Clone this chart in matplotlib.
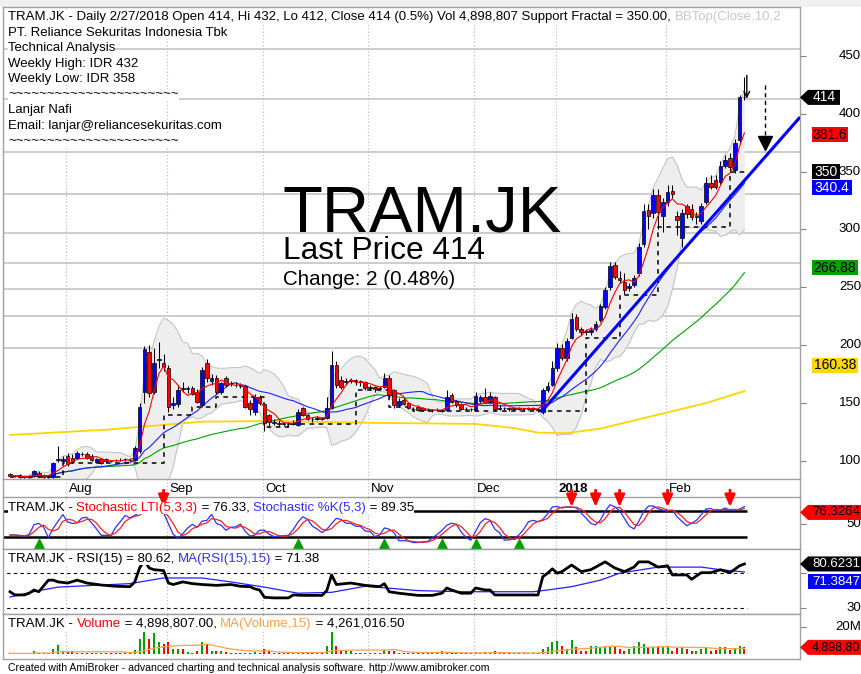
import matplotlib

matplotlib.use("Agg")
import matplotlib.pyplot as plt
import numpy as np
import pandas as pd
from matplotlib.patches import Polygon, Rectangle
from matplotlib.lines import Line2D
from matplotlib.transforms import blended_transform_factory

plt.rcParams["font.family"] = ["Liberation Sans", "DejaVu Sans"]

W, H = 862, 674

# daily bars, mid July 2017 -> 27 Feb 2018
opens = [89, 87, 88, 86, 86, 87, 90, 88, 86, 86,
         101, 100, 104, 103, 103, 106, 106, 104, 99, 102,
         102, 100, 101, 101, 102, 101, 101, 109, 160, 194,
         160, 187, 185, 180, 148, 149, 163, 162, 163, 160,
         148, 185, 169, 172, 160, 172, 167, 166, 166, 165,
         150, 142, 155, 149, 140, 134, 133, 132, 133, 132,
         131, 146, 140, 136, 136, 137, 137, 146, 183, 170,
         168, 169, 170, 169, 168, 163, 164, 162, 164, 172,
         161, 148, 153, 150, 145, 147, 146, 144, 144, 144,
         143, 144, 157, 152, 149, 145, 145, 144, 152, 155,
         151, 155, 145, 146, 146, 145, 146, 145, 145, 146,
         145, 142, 161, 166, 180, 198, 189, 206, 224, 214,
         212, 211, 214, 222, 233, 250, 269, 258, 255, 249,
         252, 262, 287, 317, 314, 330, 312, 324, 333, 312,
         293, 320, 318, 311, 307, 324, 340, 343, 341, 355,
         362, 351, 377, 414]
highs = [90, 88, 89, 87, 88, 92, 91, 89, 87, 99,
         113, 104, 107, 106, 109, 108, 108, 106, 103, 103,
         103, 101, 102, 103, 103, 103, 113, 150, 199, 200,
         198, 203, 192, 183, 155, 165, 168, 165, 165, 162,
         181, 188, 175, 174, 168, 173, 169, 168, 167, 166,
         153, 158, 157, 150, 141, 136, 135, 134, 134, 135,
         145, 147, 141, 138, 139, 138, 155, 195, 186, 173,
         172, 172, 171, 170, 169, 166, 165, 165, 176, 174,
         162, 154, 154, 151, 147, 148, 147, 146, 145, 146,
         145, 161, 159, 153, 150, 147, 146, 160, 157, 163,
         160, 156, 148, 147, 147, 147, 147, 146, 147, 147,
         146, 163, 168, 186, 202, 201, 206, 228, 227, 216,
         214, 216, 221, 236, 250, 272, 272, 264, 262, 254,
         261, 288, 322, 322, 335, 335, 327, 338, 338, 316,
         318, 322, 322, 315, 323, 345, 347, 347, 359, 364,
         366, 378, 416, 432]
lows = [86, 86, 85, 85, 85, 86, 86, 85, 85, 85,
        99, 99, 96, 98, 102, 104, 102, 100, 98, 97,
        99, 99, 100, 100, 100, 100, 100, 107, 150, 155,
        158, 180, 178, 142, 145, 147, 160, 159, 157, 150,
        147, 168, 166, 158, 158, 164, 165, 164, 163, 146,
        140, 140, 148, 126, 130, 131, 130, 130, 129, 131,
        130, 139, 135, 134, 135, 135, 136, 145, 163, 162,
        166, 167, 166, 165, 161, 161, 160, 161, 163, 155,
        146, 147, 148, 145, 143, 143, 143, 143, 142, 143,
        142, 143, 150, 147, 144, 144, 143, 143, 150, 150,
        150, 143, 144, 144, 143, 144, 144, 143, 144, 144,
        142, 141, 160, 165, 178, 187, 186, 205, 212, 209,
        209, 209, 212, 220, 231, 248, 257, 254, 244, 247,
        250, 260, 285, 300, 310, 300, 298, 320, 327, 295,
        285, 310, 308, 305, 305, 322, 335, 335, 339, 353,
        350, 349, 375, 412]
closes = [87, 87, 86, 86, 87, 91, 87, 86, 86, 98,
          102, 102, 97, 99, 107, 106, 103, 101, 102, 98,
          100, 100, 101, 101, 102, 101, 111, 147, 197, 159,
          185, 188, 181, 147, 150, 161, 162, 163, 158, 151,
          179, 172, 172, 160, 167, 166, 167, 166, 165, 147,
          145, 155, 150, 133, 134, 133, 132, 133, 132, 133,
          142, 140, 136, 136, 137, 136, 146, 183, 166, 164,
          169, 170, 169, 168, 163, 164, 162, 163, 172, 157,
          148, 152, 149, 146, 145, 144, 144, 144, 144, 144,
          144, 155, 151, 148, 145, 145, 145, 156, 155, 151,
          156, 145, 146, 146, 145, 146, 145, 145, 146, 145,
          144, 161, 165, 180, 198, 189, 204, 223, 214, 211,
          211, 213, 218, 234, 248, 268, 259, 256, 248, 251,
          258, 285, 316, 312, 330, 315, 324, 332, 331, 308,
          314, 313, 311, 312, 320, 340, 337, 337, 355, 360,
          354, 375, 414, 414]
# volume in millions of shares
volumes_m = [0.5, 0.4, 0.6, 0.3, 0.4, 2.5, 0.5, 0.6, 0.4, 3.7,
             6.7, 2.5, 1.5, 2.0, 1.0, 0.8, 0.8, 0.8, 0.8, 0.8,
             0.8, 0.7, 0.7, 0.8, 0.7, 0.8, 3.0, 11.0, 16.0, 11.0,
             15.5, 8.6, 7.4, 8.6, 3.7, 3.7, 3.7, 1.2, 0.8, 2.5,
             8.6, 7.4, 2.5, 2.0, 2.0, 1.5, 0.8, 0.8, 0.8, 0.8,
             0.8, 1.2, 0.8, 3.7, 2.0, 0.7, 0.7, 0.7, 0.7, 0.7,
             1.2, 0.7, 0.7, 0.7, 0.7, 0.7, 6.0, 16.0, 6.0, 3.0,
             3.0, 2.0, 0.8, 0.8, 0.8, 0.8, 0.8, 0.8, 3.0, 2.5,
             2.0, 0.7, 0.7, 0.7, 0.7, 0.7, 0.7, 0.7, 0.7, 0.7,
             2.5, 1.2, 0.6, 0.6, 0.6, 0.6, 0.6, 1.2, 0.7, 1.5,
             0.6, 2.0, 0.6, 0.6, 0.6, 0.6, 0.6, 0.6, 0.6, 0.6,
             0.6, 3.7, 5.4, 8.6, 9.9, 6.0, 3.7, 10.0, 5.0, 2.5,
             2.0, 6.0, 6.0, 5.4, 5.4, 5.4, 5.0, 3.7, 2.0, 3.7,
             6.0, 8.6, 7.4, 5.4, 5.4, 5.0, 5.4, 6.0, 2.5, 4.5,
             5.0, 3.7, 2.5, 2.0, 3.7, 5.0, 2.5, 3.0, 5.4, 5.0,
             3.0, 4.5, 6.0, 4.9]

# RSI(15) and its 15-bar MA at these bars
rsi_idx = [0, 1, 3, 4, 5, 6, 8, 9, 10, 12, 14, 16, 19, 22, 25, 26, 27, 28, 29, 30,
           32, 33, 34, 36, 38, 40, 43, 46, 48, 50, 51, 52, 53, 55, 58, 59, 61, 65, 66, 67,
           68, 71, 74, 77, 78, 79, 81, 85, 88, 90, 91, 92, 94, 96, 97, 99, 100, 101, 105, 110,
           111, 112, 113, 114, 115, 117, 119, 121, 122, 124, 126, 128, 130, 131, 133, 135, 137, 138, 141, 142,
           144, 146, 148, 150, 152, 153]
rsi_val = [48.7, 45, 45, 47, 50.7, 48.7, 62, 62, 60, 58.7, 62, 58.7, 56.4, 55, 54.5, 60, 76, 85, 76, 74,
           73, 58.7, 57, 60, 58, 57, 56, 57, 55, 54.5, 52, 50.7, 42.3, 41.6, 41.6, 45, 44.5, 44.5, 50, 68,
           57, 58.7, 56, 54.5, 58, 48.7, 47, 44.5, 44.5, 47, 53, 50.7, 47, 47, 53, 50.7, 50.7, 45, 45, 45,
           66, 70, 75, 70, 71.8, 79.4, 71.8, 74, 77, 83, 76, 71.8, 77, 83, 83, 77, 78.5, 68, 68, 63,
           70.6, 70.6, 74, 70.6, 78.5, 80.6]
rsi_ma_idx = [0, 6, 10, 25, 32, 40, 46, 53, 60, 67, 74, 85, 94, 109, 112, 117, 123, 127, 135, 144, 148, 153]
rsi_ma_val = [42.6, 50, 54, 58, 64.5, 64.5, 60, 54, 47, 48, 55, 50, 48.7, 48.7, 50.7, 54.5, 62, 70, 77, 77, 74, 71.4]

month_idx = [12, 33, 53, 75, 97, 114, 137]
month_lbl = ["Aug", "Sep", "Oct", "Nov", "Dec", "2018", "Feb"]

level_lines = [456, 413, 367, 331, 297, 271, 248.5, 225, 197.5]

support_idx = [0, 11, 32, 38, 43, 53, 58, 72, 79, 84, 120, 127, 135, 150]
support_val = [86, 98, 140, 147, 155, 129, 132, 161, 147, 143, 206, 243, 302, 350]

ma200_idx = [0, 20, 40, 55, 75, 97, 105, 110, 116, 123, 136, 145, 153]
ma200_val = [122.5, 127, 134, 134.5, 133, 132, 128.5, 124.5, 124, 128, 141, 150, 160.4]

trend_idx = [110.6, 164.6]
trend_val = [142, 397]

buy_idx = [6, 60, 78, 90, 97, 106]
sell_idx = [32, 117, 122, 127, 137, 150]

header_lines = [
    "PT. Reliance Sekuritas Indonesia Tbk",
    "Technical Analysis",
    "Weekly High: IDR 432",
    "Weekly Low: IDR 358",
    "~~~~~~~~~~~~~~~~~~~~~~",
    "Lanjar Nafi",
    "Email: lanjar@reliancesekuritas.com",
    "~~~~~~~~~~~~~~~~~~~~~~",
]


def frect(x0, y0, x1, y1):
    return [x0 / W, 1 - y1 / H, (x1 - x0) / W, (y1 - y0) / H]


def fpt(x, y):
    return (x / W, 1 - y / H)


def ypix(axis, v):
    return H - axis.transData.transform((0, v))[1]


o = np.array(opens, float)
h = np.array(highs, float)
l = np.array(lows, float)
c = np.array(closes, float)
vol = np.array(volumes_m, float)
idx = np.arange(len(c))
cs = pd.Series(c)

ma5 = cs.rolling(5, min_periods=1).mean()
ma20 = cs.rolling(20, min_periods=1).mean()
ma50 = cs.rolling(50, min_periods=1).mean()
bb_mid = cs.rolling(10, min_periods=2).mean()
bb_sd = cs.rolling(10, min_periods=2).std(ddof=0)
bb_hi = bb_mid + 2 * bb_sd
bb_lo = bb_mid - 2 * bb_sd

ll5 = pd.Series(l).rolling(5, min_periods=1).min()
hh5 = pd.Series(h).rolling(5, min_periods=1).max()
fast_k = ((cs - ll5) / (hh5 - ll5).replace(0, np.nan) * 100).fillna(50)
stoch_k = fast_k.rolling(3, min_periods=1).mean()
stoch_d = stoch_k.rolling(3, min_periods=1).mean()

vol_ma = pd.Series(vol).rolling(15, min_periods=1).mean()

fig = plt.figure(figsize=(W / 100, H / 100), dpi=100)
fig.patch.set_facecolor("white")
fig.add_artist(Rectangle((0, 1 - 7 / H), 1, 7 / H, transform=fig.transFigure,
                         fc="#F0F0F0", ec="none", zorder=0))

ax = fig.add_axes(frect(3, 7, 800, 479))
ax_st = fig.add_axes(frect(3, 497, 800, 549), sharex=ax)
ax_rsi = fig.add_axes(frect(3, 549, 800, 614), sharex=ax)
ax_vol = fig.add_axes(frect(3, 614, 800, 659), sharex=ax)

ax.set_xlim(-7 / 4.8, 790 / 4.8)
ax.set_ylim(84.46, 492.06)
ax_st.set_ylim(-6.8, 111.4)
ax_rsi.set_ylim(23.1, 97.8)
ax_vol.set_ylim(-3.7, 29.6)

for a in (ax, ax_st, ax_rsi, ax_vol):
    for s in a.spines.values():
        s.set_color("#A0A0A0")
        s.set_linewidth(1.0)
    a.tick_params(axis="x", bottom=False, labelbottom=False)
    a.yaxis.tick_right()
    a.tick_params(axis="y", direction="out", length=4, color="#808080", labelright=False)
    for m in month_idx:
        a.axvline(m - 0.35, color="#B8B8B8", lw=0.8, ls=(0, (1, 2)), zorder=0.4)

# date strip between price pane and stochastic pane
for xp in (3, 800):
    fig.add_artist(Line2D([xp / W, xp / W], [1 - 479 / H, 1 - 497 / H],
                          transform=fig.transFigure, color="#A0A0A0", lw=1.0))
blend = blended_transform_factory(ax.transData, fig.transFigure)
for m, lab in zip(month_idx, month_lbl):
    ax.plot([m - 0.35, m - 0.35], [1 - 479 / H, 1 - 497 / H], transform=blend,
            color="#B8B8B8", lw=0.8, ls=(0, (1, 2)), clip_on=False)
    ax.text(m + 0.2, 1 - 489 / H, lab, transform=blend, fontsize=9.5, va="center",
            ha="left", fontweight="bold" if lab == "2018" else "normal")

# ---- price pane
ax.set_yticks([100, 150, 200, 250, 300, 350, 400, 450])
for p in level_lines:
    ax.axhline(p, color="#C8C8C8", lw=1.3, zorder=0.5)

ax.fill_between(idx, bb_lo, bb_hi, color="#EEEEEE", lw=0, zorder=1)
ax.plot(idx, bb_hi, color="#C4C4C4", lw=0.8, zorder=1.1)
ax.plot(idx, bb_lo, color="#C4C4C4", lw=0.8, zorder=1.1)

ax.plot(ma200_idx, ma200_val, color="#FFD500", lw=1.3, zorder=2)
ax.plot(idx, ma50, color="#00A000", lw=0.8, zorder=2)
ax.plot(idx, ma20, color="#2020FF", lw=0.8, zorder=2)
ax.plot(support_idx + [153.5], support_val + [support_val[-1]], drawstyle="steps-post",
        color="black", lw=1.1, ls=(0, (3, 3)), zorder=2.5)

ax.vlines(idx, l, h, color="black", lw=0.75, zorder=3)
body_col = np.where(c > o, "#0000FF", "#FF0000")
ax.bar(idx, np.abs(c - o), bottom=np.minimum(o, c), width=0.72, color=body_col,
       edgecolor="black", linewidth=0.5, zorder=4)
ax.plot(idx, ma5, color="#FF0000", lw=0.8, zorder=4.5)
ax.plot(trend_idx, trend_val, color="#0000FF", lw=2.2, zorder=5, solid_capstyle="butt")

ax.annotate("", xy=(153.5, 413), xytext=(153.5, 433),
            arrowprops=dict(arrowstyle="->", color="black", lw=1.0, shrinkA=0, shrinkB=0))
ax.plot([157.3, 157.3], [424.7, 378], color="black", lw=1.0, ls=(0, (3, 2.5)), zorder=6)
ax.plot([157.3], [375], marker="v", ms=10, color="black", zorder=6)

# ---- stochastic pane
ax_st.set_yticks([50])
ax_st.hlines([80, 20], -2, 153.5, colors="black", lw=1.8, zorder=2)
ax_st.plot(idx, stoch_k, color="#3030FF", lw=0.9, zorder=3)
ax_st.plot(idx, stoch_d, color="#FF2020", lw=0.9, zorder=3)
ax_st.plot(buy_idx, [1.5] * len(buy_idx), ls="none", marker="^", ms=8, color="#00A000", zorder=4)
for i in sell_idx:
    ax_st.annotate("", xy=(i, 88.6), xytext=(i, 127), annotation_clip=False,
                   arrowprops=dict(arrowstyle="-|>,head_width=0.3,head_length=0.7",
                                   color="#FF0000", lw=2.0, shrinkA=0, shrinkB=0))

# ---- RSI pane
ax_rsi.set_yticks([30, 70])
ax_rsi.hlines([70, 30], -2, 153.5, colors="black", lw=0.8, linestyles=(0, (3, 3)), zorder=1)
ax_rsi.plot(rsi_ma_idx, rsi_ma_val, color="#2020FF", lw=0.9, zorder=2)
ax_rsi.plot(rsi_idx, rsi_val, color="black", lw=2.0, zorder=3)

# ---- volume pane
ax_vol.set_yticks([20])
vcol = np.where(c > o, "#00A000", "#FF0000")
ax_vol.bar(idx, vol, width=0.45, color=vcol, zorder=2)
ax_vol.plot(idx, vol_ma, color="#FFA050", lw=0.9, zorder=3)


def chain(axis, y, parts, fs=9.5):
    prev = axis.text(8 / W, 1 - y / H, parts[0][0], transform=fig.transFigure,
                     color=parts[0][1], fontsize=fs, va="center", ha="left", zorder=20,
                     bbox=dict(boxstyle="square,pad=0", fc="white", ec="none"))
    for s, col in parts[1:]:
        prev = axis.annotate(s, xy=(1, 0), xycoords=prev, va="bottom", ha="left",
                             color=col, fontsize=fs, zorder=20, annotation_clip=False,
                             bbox=dict(boxstyle="square,pad=0", fc="white", ec="none"))
    return prev


chain(ax, 17, [("TRAM.JK - Daily 2/27/2018 Open 414, Hi 432, Lo 412, Close 414 (0.5%) "
                "Vol 4,898,807 Support Fractal = 350.00, ", "black"),
               ("BBTop(Close,10,2", "#C8C8C8")])
for k, line in enumerate(header_lines):
    ax.text(8 / W, 1 - (32.5 + 15.5 * k) / H, line, transform=fig.transFigure, fontsize=9.5,
            va="center", ha="left", zorder=20,
            bbox=dict(boxstyle="square,pad=0", fc="white", ec="none"))

chain(ax_st, 508, [("TRAM.JK - ", "black"), ("Stochastic LTI(5,3,3)", "#FF0000"),
                   (" = 76.33, ", "black"), ("Stochastic %K(5,3)", "#3030FF"),
                   (" = 89.35", "black")])
chain(ax_rsi, 559, [("TRAM.JK - RSI(15) = 80.62, ", "black"), ("MA(RSI(15),15)", "#3030FF"),
                    (" = 71.38", "black")])
chain(ax_vol, 624, [("TRAM.JK - ", "black"), ("Volume", "#FF0000"),
                    (" = 4,898,807.00, ", "black"), ("MA(Volume,15)", "#FFA050"),
                    (" = 4,261,016.50", "black")])

fig.text(283 / W, 1 - 232 / H, "TRAM.JK", fontsize=47, va="baseline", ha="left")
fig.text(283 / W, 1 - 259 / H, "Last Price 414", fontsize=22.8, va="baseline", ha="left")
fig.text(283 / W, 1 - 285 / H, "Change: 2 (0.48%)", fontsize=14.8, va="baseline", ha="left")

fig.text(8 / W, 1 - 668 / H, "Created with AmiBroker - advanced charting and technical "
         "analysis software. http://www.amibroker.com", fontsize=7.6, va="center", ha="left")

# right-hand axis labels
for axis, vals, fmt in ((ax, [100, 150, 200, 250, 300, 350, 400, 450], "{:d}"),
                        (ax_st, [50], "{:d}"), (ax_rsi, [30], "{:d}"), (ax_vol, [20], "{:d}M")):
    for v in vals:
        fig.text(861 / W, 1 - ypix(axis, v) / H, fmt.format(v), fontsize=9.5,
                 va="center", ha="right", zorder=5)


def tag(y, text, fc, tc, x1, arrow=False, x0=812, tx=None, ha="center", fs=10):
    hh = 15
    if arrow:
        pts = [(800, y), (808, y - hh / 2), (x1, y - hh / 2), (x1, y + hh / 2), (808, y + hh / 2)]
        left = 808
    else:
        pts = [(x0, y - hh / 2), (x1, y - hh / 2), (x1, y + hh / 2), (x0, y + hh / 2)]
        left = x0
    fig.add_artist(Polygon([fpt(px, py) for px, py in pts], closed=True,
                           transform=fig.transFigure, fc=fc, ec="none", zorder=10))
    if tx is None:
        tx = (left + x1) / 2
    fig.text(*fpt(tx, y), text, ha=ha, va="center", color=tc, fontsize=fs, zorder=11)


tag(ypix(ax, 414), "414", "black", "white", 840, arrow=True)
tag(ypix(ax, 381.6), "381.6", "#FF0000", "black", 848)
tag(ypix(ax, 350), "350", "black", "white", 840)
tag(ypix(ax, 340.4) + 5, "340.4", "#0000FF", "white", 852)
tag(ypix(ax, 266.88), "266.88", "#00A000", "black", 858)
tag(365, "160.38", "#FFD800", "black", 858)
tag(ypix(ax_st, 76.33), "76.3264", "#FF0000", "black", 870, arrow=True, tx=812, ha="left", fs=9.5)
tag(ypix(ax_rsi, 80.62), "80.6231", "black", "white", 870, arrow=True, tx=812, ha="left", fs=9.5)
tag(ypix(ax_rsi, 71.38) + 10, "71.3847", "#0000FF", "white", 870, x0=808, tx=812, ha="left", fs=9.5)
tag(ypix(ax_vol, 4.9), "4,898,80", "#FF0000", "black", 870, arrow=True, tx=812, ha="left", fs=9)

fig.savefig("out.png", dpi=100)
